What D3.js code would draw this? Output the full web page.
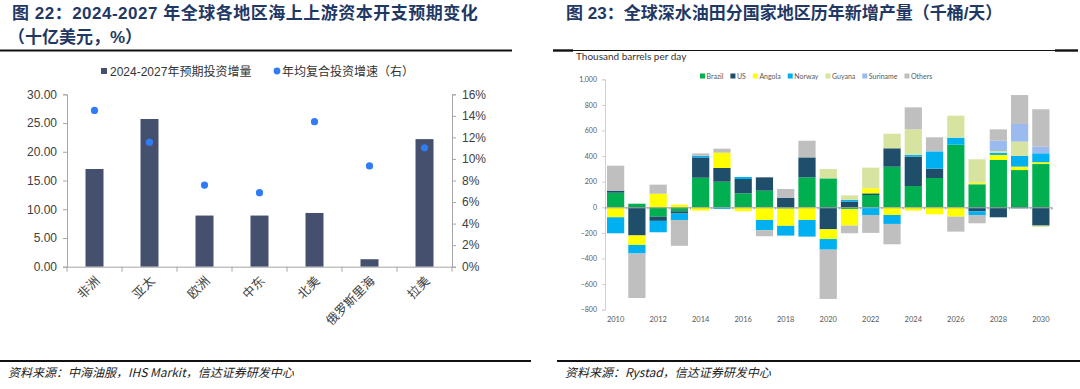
<!DOCTYPE html>
<html>
<head>
<meta charset="utf-8">
<script src="https://cdn.jsdelivr.net/npm/d3@7"></script>
<style>
  body { margin: 0; background: #fff; }
  svg { display: block; }
</style>
</head>
<body>
<div id="chart"></div>
<script>
// left chart data (十亿美元, %)
const regions = ["非洲", "亚太", "欧洲", "中东", "北美", "俄罗斯里海", "拉美"];
const investIncrease = [17.0, 25.7, 8.9, 8.9, 9.35, 1.3, 22.2];
const cagr = [0.145, 0.1155, 0.0758, 0.0687, 0.1346, 0.0935, 0.1104];
const leftTicks = [0, 5, 10, 15, 20, 25, 30];
const rightTicks = [0, 0.02, 0.04, 0.06, 0.08, 0.1, 0.12, 0.14, 0.16];

// right chart data (thousand barrels per day)
const years = d3.range(2010, 2031);
const brazil   = [114, 28, -73, -31, 231, 200, 109, 130, -10, 234, 226, -15, 96, 317, 166, 229, 489, 180, 370, 291, 338];
const us       = [16, -220, -33, -18, 159, 107, 112, 104, 73, 156, -172, 45, 13, 144, 230, 73, 0, -31, -78, -8, -143];
const angola   = [-78, -74, 106, 21, -26, 120, -31, -99, -135, -99, -76, -128, 39, -60, -26, -55, -73, 12, 39, 27, 14];
const norway   = [-125, -67, -89, -50, 13, -13, 16, -80, -76, -130, -83, 13, -60, -70, 13, 135, 55, -29, 18, 83, 70];
const guyana   = [0, 0, 0, 0, 0, 0, 0, 0, 0, 0, 73, 35, 162, 114, 200, 0, 172, 183, 13, 112, -10];
const suriname = [0, 0, 0, 0, 0, 0, 0, 0, 0, 0, 0, 0, 0, 0, 0, 0, 0, 0, 80, 138, 51];
const others   = [195, -348, 71, -202, 18, 31, 0, -47, 70, 130, -385, -60, -140, -159, 172, 110, -117, -65, 89, 226, 293];
const seriesNames = ["Brazil", "US", "Angola", "Norway", "Guyana", "Suriname", "Others"];
const seriesValues = [brazil, us, angola, norway, guyana, suriname, others];
const seriesColors = ["#00b050", "#1f4e6b", "#ffff00", "#00b0f0", "#d7e4a0", "#9bbbf0", "#bfbfbf"];
const yTicksR = [-800, -600, -400, -200, 0, 200, 400, 600, 800, 1000];
const yearLabels = years.filter(y => y % 2 === 0);

const width = 1080, height = 389;
const svg = d3.select("#chart").append("svg")
    .attr("width", width)
    .attr("height", height);

const cjk = "'Liberation Sans', 'Noto Sans CJK SC', sans-serif";
const navy = "#1f3864";

// ---- titles, rules, sources
svg.append("text")
    .attr("x", 12).attr("y", 19)
    .attr("font-family", cjk).attr("font-weight", "bold").attr("font-size", 17)
    .attr("letter-spacing", 0.5)
    .attr("fill", navy)
    .text("图 22：2024-2027 年全球各地区海上上游资本开支预期变化");
svg.append("text")
    .attr("x", 8).attr("y", 43)
    .attr("font-family", cjk).attr("font-weight", "bold").attr("font-size", 17)
    .attr("fill", navy)
    .text("（十亿美元，%）");
svg.append("text")
    .attr("x", 566).attr("y", 19)
    .attr("font-family", cjk).attr("font-weight", "bold").attr("font-size", 17)
    .attr("fill", navy)
    .text("图 23：全球深水油田分国家地区历年新增产量（千桶/天）");

svg.append("line").attr("x1", 0).attr("x2", 512).attr("y1", 50.5).attr("y2", 50.5)
    .attr("stroke", "#111").attr("stroke-width", 2.2);
svg.append("line").attr("x1", 553).attr("x2", 1078).attr("y1", 50.5).attr("y2", 50.5)
    .attr("stroke", "#111").attr("stroke-width", 1.2);
svg.append("line").attr("x1", 553).attr("x2", 573).attr("y1", 50.5).attr("y2", 50.5)
    .attr("stroke", "#111").attr("stroke-width", 2.4);
svg.append("line").attr("x1", 1055).attr("x2", 1078).attr("y1", 50.5).attr("y2", 50.5)
    .attr("stroke", "#111").attr("stroke-width", 2.4);

svg.append("line").attr("x1", 0).attr("x2", 531).attr("y1", 361).attr("y2", 361)
    .attr("stroke", "#111").attr("stroke-width", 2);
svg.append("line").attr("x1", 557).attr("x2", 1080).attr("y1", 361).attr("y2", 361)
    .attr("stroke", "#111").attr("stroke-width", 2);

svg.append("text")
    .attr("x", 8).attr("y", 377)
    .attr("font-family", "'Noto Sans CJK SC', sans-serif").attr("font-style", "italic")
    .attr("font-size", 12).attr("fill", "#222")
    .text("资料来源：中海油服，IHS Markit，信达证券研发中心");
svg.append("text")
    .attr("x", 565).attr("y", 377)
    .attr("font-family", "'Noto Sans CJK SC', sans-serif").attr("font-style", "italic")
    .attr("font-size", 12).attr("fill", "#222")
    .text("资料来源：Rystad，信达证券研发中心");

// ---- left chart
const L = { left: 67, right: 452, top: 94.3, bottom: 266.7 };
const xL = d3.scaleBand().domain(regions).range([L.left, L.right]).padding(0);
const barW = 18;
const yL = d3.scaleLinear().domain([0, 30]).range([L.bottom, L.top]);
const yR = d3.scaleLinear().domain([0, 0.16]).range([L.bottom, L.top]);
const axisColor = "#a6a6a6";

const gl = svg.append("g");

const axL = gl.append("g").attr("transform", `translate(${L.left},0)`)
    .call(d3.axisLeft(yL).tickValues(leftTicks).tickFormat(d3.format(".2f")).tickSize(4).tickPadding(6));
const axR = gl.append("g").attr("transform", `translate(${L.right},0)`)
    .call(d3.axisRight(yR).tickValues(rightTicks).tickFormat(d3.format(".0%")).tickSize(4).tickPadding(6));
[axL, axR].forEach(a => {
    a.select(".domain").attr("stroke", axisColor);
    a.selectAll(".tick line").attr("stroke", axisColor);
    a.selectAll("text").attr("font-family", cjk).attr("font-size", 12).attr("fill", "#404040");
});

gl.selectAll("rect.bar").data(regions).join("rect")
    .attr("class", "bar")
    .attr("x", d => xL(d) + (xL.bandwidth() - barW) / 2)
    .attr("width", barW)
    .attr("y", (d, i) => yL(investIncrease[i]))
    .attr("height", (d, i) => yL(0) - yL(investIncrease[i]))
    .attr("fill", "#44506d");

const axB = gl.append("g").attr("transform", `translate(0,${L.bottom})`)
    .call(d3.axisBottom(xL).tickSize(0).tickFormat(""));
axB.select(".domain").attr("stroke", axisColor);
// category boundary ticks
gl.selectAll("line.btick").data(regions.concat(["end"])).join("line")
    .attr("class", "btick")
    .attr("x1", (d, i) => L.left + i * xL.step()).attr("x2", (d, i) => L.left + i * xL.step())
    .attr("y1", L.bottom).attr("y2", L.bottom + 5)
    .attr("stroke", axisColor);

gl.selectAll("text.cat").data(regions).join("text")
    .attr("class", "cat")
    .attr("transform", d => `translate(${xL(d) + xL.bandwidth() / 2 + 6},${L.bottom + 15}) rotate(-45)`)
    .attr("text-anchor", "end")
    .attr("font-family", cjk).attr("font-size", 12.5).attr("fill", "#404040")
    .text(d => d);

gl.selectAll("circle.dot").data(regions).join("circle")
    .attr("class", "dot")
    .attr("cx", d => xL(d) + xL.bandwidth() / 2)
    .attr("cy", (d, i) => yR(cagr[i]))
    .attr("r", 3.6)
    .attr("fill", "#2f7cf6");

// legend left
gl.append("rect").attr("x", 101).attr("y", 68).attr("width", 6).attr("height", 6).attr("fill", "#44506d");
gl.append("text").attr("x", 110).attr("y", 75.5)
    .attr("font-family", cjk).attr("font-size", 12).attr("fill", "#333")
    .text("2024-2027年预期投资增量");
gl.append("circle").attr("cx", 277).attr("cy", 71).attr("r", 3.4).attr("fill", "#2f7cf6");
gl.append("text").attr("x", 282).attr("y", 75.5)
    .attr("font-family", cjk).attr("font-size", 12).attr("fill", "#333")
    .text("年均复合投资增速（右）");

// ---- right chart
const R = { left: 605, right: 1051.5, top: 79.3, bottom: 309.7 };
const smallFont = "Lato, 'Open Sans', sans-serif";
const table = years.map((y, i) => {
    const row = { year: y };
    seriesNames.forEach((s, k) => { row[s] = seriesValues[k][i]; });
    return row;
});
const stacked = d3.stack().keys(seriesNames).offset(d3.stackOffsetDiverging)(table);

const xS = d3.scaleBand().domain(years).range([R.left, R.right]).paddingInner(0.19).paddingOuter(0.095);
const yS = d3.scaleLinear().domain([-800, 1000]).range([R.bottom, R.top]);
const gr = svg.append("g");

gr.append("text").attr("x", 576).attr("y", 60)
    .attr("font-family", smallFont).attr("font-size", 10).attr("fill", "#333")
    .text("Thousand barrels per day");

const axS = gr.append("g").attr("transform", `translate(${R.left},0)`)
    .call(d3.axisLeft(yS).tickValues(yTicksR).tickFormat(d3.format(",")).tickSize(3).tickPadding(5));
axS.select(".domain").attr("stroke", "#d0d0d0");
axS.selectAll(".tick line").attr("stroke", "#d0d0d0");
axS.selectAll("text").attr("font-family", smallFont).attr("font-size", 7).attr("fill", "#595959");

gr.selectAll("g.series").data(stacked).join("g")
    .attr("class", "series")
    .attr("fill", (d, i) => seriesColors[i])
    .selectAll("rect").data(d => d).join("rect")
    .attr("x", d => xS(d.data.year))
    .attr("width", xS.bandwidth())
    .attr("y", d => yS(Math.max(d[0], d[1])))
    .attr("height", d => Math.abs(yS(d[0]) - yS(d[1])));

// zero line with small ticks
const axZ = gr.append("g").attr("transform", `translate(0,${yS(0)})`)
    .call(d3.axisBottom(d3.scaleLinear().domain([0, 21]).range([R.left, R.right]))
        .tickValues(d3.range(0, 22)).tickSize(2).tickFormat(""));
axZ.select(".domain").attr("stroke", "#a0a0a0");
axZ.selectAll(".tick line").attr("stroke", "#a0a0a0");

gr.selectAll("text.year").data(yearLabels).join("text")
    .attr("class", "year")
    .attr("x", d => xS(d) + xS.bandwidth() / 2)
    .attr("y", 322)
    .attr("text-anchor", "middle")
    .attr("font-family", smallFont).attr("font-size", 7.5).attr("fill", "#595959")
    .text(d => d);

// legend right
let lx = 700;
seriesNames.forEach((s, i) => {
    gr.append("rect").attr("x", lx).attr("y", 73.5).attr("width", 5).attr("height", 5).attr("fill", seriesColors[i]);
    const t = gr.append("text").attr("x", lx + 6.5).attr("y", 78.5)
        .attr("font-family", smallFont).attr("font-size", 7).attr("fill", "#595959")
        .text(s);
    lx += 6.5 + t.node().getComputedTextLength() + 7;
});
</script>
</body>
</html>
